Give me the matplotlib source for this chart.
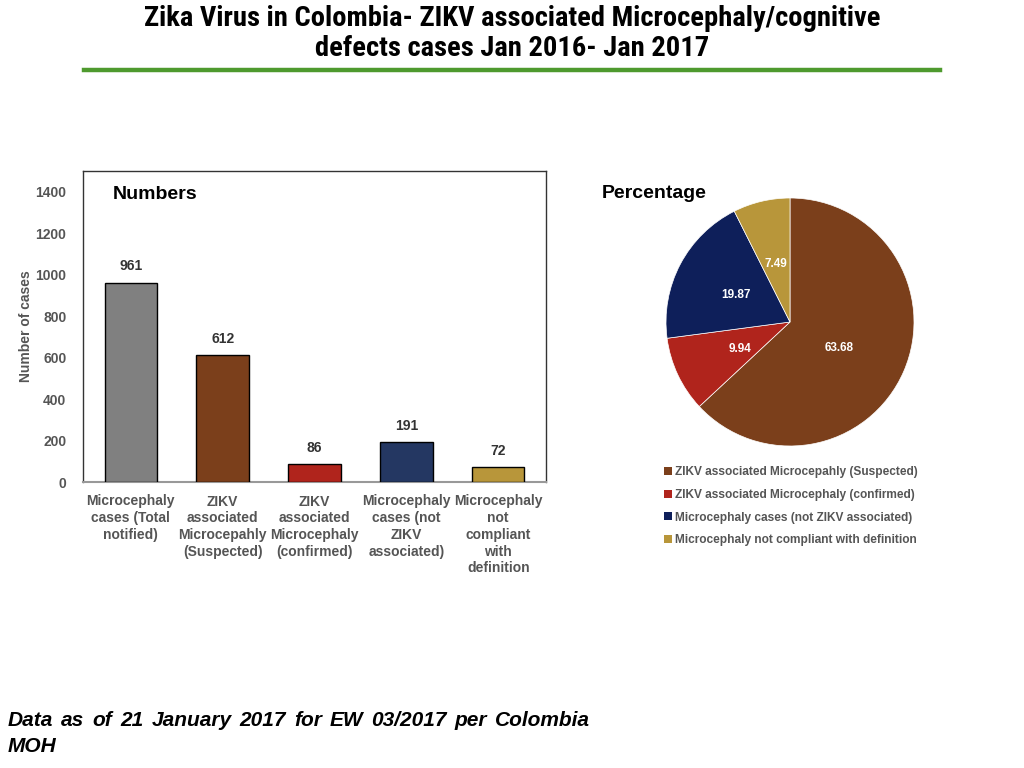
import matplotlib
matplotlib.use("Agg")
import matplotlib.pyplot as plt
from matplotlib.patches import Patch
from matplotlib.lines import Line2D
from matplotlib import font_manager

plt.rcParams['font.family'] = ['Liberation Sans', 'DejaVu Sans']

# ---- data ----
bar_labels = ["Microcephaly\ncases (Total\nnotified)",
              "ZIKV\nassociated\nMicrocepahly\n(Suspected)",
              "ZIKV\nassociated\nMicrocephaly\n(confirmed)",
              "Microcephaly\ncases (not\nZIKV\nassociated)",
              "Microcephaly\nnot\ncompliant\nwith\ndefinition"]
bar_values = [961, 612, 86, 191, 72]
bar_colors = ["#808080", "#7B3F1B", "#B0241C", "#243762", "#B8963A"]

pie_labels = ["ZIKV associated Microcepahly (Suspected)",
              "ZIKV associated Microcephaly (confirmed)",
              "Microcephaly cases (not ZIKV associated)",
              "Microcephaly not compliant with definition"]
pie_values = [63.68, 9.94, 19.87, 7.49]
pie_colors = ["#7B3F1B", "#B0241C", "#0E1F5A", "#B8963A"]

yticks = [0, 200, 400, 600, 800, 1000, 1200, 1400]

names = {f.name for f in font_manager.fontManager.ttflist}
title_family = None
for cand in ['Liberation Sans Narrow', 'DejaVu Sans Condensed', 'Roboto Condensed', 'Open Sans Condensed']:
    if cand in names:
        title_family = cand
        break

fig = plt.figure(figsize=(10.24, 7.68), dpi=100)

# ---- title ----
if title_family:
    tkw = dict(family=[title_family, 'Liberation Sans'], fontsize=20.5)
else:
    tkw = dict(family=['Liberation Sans'], fontsize=17, fontstretch='condensed')
fig.text(0.5, 1 - 33.5 / 768, "Zika Virus in Colombia- ZIKV associated Microcephaly/cognitive\ndefects cases Jan 2016- Jan 2017",
         ha='center', va='center', fontweight='bold', linespacing=1.12, **tkw)
fig.add_artist(Line2D([84 / 1024, 940 / 1024], [1 - 70 / 768, 1 - 70 / 768],
                      color='#4E9A2E', lw=3.2, transform=fig.transFigure))

# ---- bar chart ----
ax = fig.add_axes([83 / 1024, 1 - 482 / 768, 463 / 1024, 311 / 768])
x = list(range(len(bar_values)))
ax.bar(x, bar_values, width=0.57, color=bar_colors, edgecolor='black', linewidth=1.0, zorder=3)
for xi, v in zip(x, bar_values):
    ax.text(xi, v + 45, str(v), ha='center', va='bottom', fontsize=10,
            fontweight='bold', color='#333333')
ax.set_xlim(-0.52, 4.52)
ax.set_ylim(0, 1500)
ax.set_yticks(yticks)
ax.set_yticklabels([str(t) for t in yticks], fontsize=10, fontweight='bold', color='#555555')
ax.set_xticks(x)
ax.set_xticklabels(bar_labels, fontsize=10, fontweight='bold', color='#555555', linespacing=1.25)
ax.tick_params(axis='y', length=0, pad=12)
ax.tick_params(axis='x', length=0, pad=9)
ax.set_ylabel("Number of cases", fontsize=10, fontweight='bold', color='#555555', labelpad=2)
for s in ['left', 'top', 'right']:
    ax.spines[s].set_color('#333333')
    ax.spines[s].set_linewidth(1.0)
ax.spines['bottom'].set_color('#999999')
ax.spines['bottom'].set_linewidth(1.5)
ax.text(0.065, 0.925, "Numbers", transform=ax.transAxes, fontsize=14, fontweight='bold',
        ha='left', va='center')

# ---- pie chart ----
pax = fig.add_axes([666 / 1024, 1 - 446 / 768, 248 / 1024, 248 / 768])
wedges, texts = pax.pie(pie_values, colors=pie_colors, startangle=90, counterclock=False,
                        wedgeprops=dict(linewidth=0.5, edgecolor='white'))
pax.set_xlim(-1, 1)
pax.set_ylim(-1, 1)
label_pos = [(0.40, -0.21), (-0.40, -0.22), (-0.44, 0.22), (-0.11, 0.47)]
for (lx, ly), v in zip(label_pos, pie_values):
    pax.text(lx, ly, f"{v:.2f}", ha='center', va='center', color='white',
             fontsize=8.5, fontweight='bold')
pax.set_aspect('equal')
fig.text(602 / 1024, 1 - 193 / 768, "Percentage", fontsize=14, fontweight='bold',
         ha='left', va='center')

handles = [Patch(facecolor=c, edgecolor='none') for c in pie_colors]
leg = fig.legend(handles, pie_labels, loc='upper left', bbox_to_anchor=(664 / 1024, 1 - 466 / 768),
                 frameon=False, fontsize=8.6, handlelength=0.65, handleheight=0.65,
                 handletextpad=0.3, labelspacing=0.9, borderaxespad=0, borderpad=0)
for t in leg.get_texts():
    t.set_color('#555555')
    t.set_fontweight('bold')

# ---- footnote (justified first line) ----
line1 = "Data as of 21 January 2017 for EW 03/2017 per Colombia".split()
fn_kw = dict(fontsize=15, fontweight='bold', fontstyle='italic', va='center', ha='left')
y1 = 1 - 721 / 768
x0, x1 = 8 / 1024, 590 / 1024
fig.canvas.draw()
r = fig.canvas.get_renderer()
words = [fig.text(0, y1, w, **fn_kw) for w in line1]
widths = [w.get_window_extent(r).width / 1024 for w in words]
gap = (x1 - x0 - sum(widths)) / (len(words) - 1)
pos = x0
for w, wd in zip(words, widths):
    w.set_x(pos)
    pos += wd + gap
fig.text(x0, 1 - 746 / 768, "MOH", **fn_kw)

fig.savefig("out.png", dpi=100)
